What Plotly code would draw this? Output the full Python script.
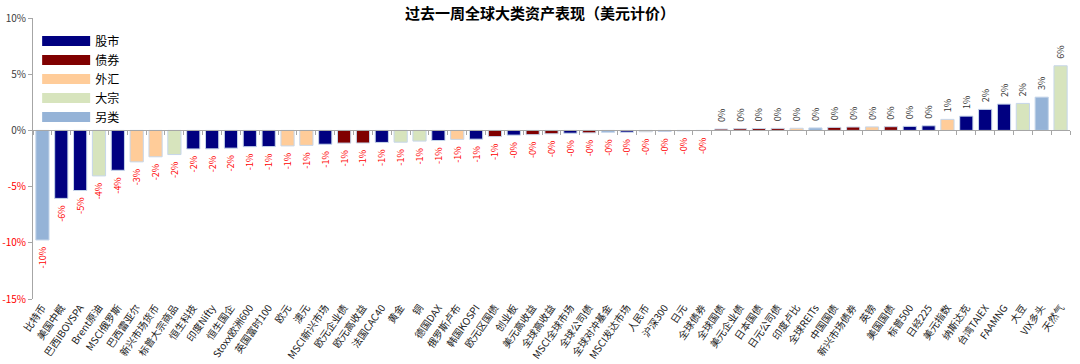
import plotly.graph_objects as go

categories = ["比特币", "美国中概", "巴西IBOVSPA", "Brent原油", "MSCI俄罗斯", "巴西雷亚尔", "新兴市场货币",
              "标普大宗商品", "恒生科技", "印度Nifty", "恒生国企", "Stoxx欧洲600", "英国富时100", "欧元", "澳元",
              "MSCI新兴市场", "欧元企业债", "欧元高收益", "法国CAC40", "黄金", "铜", "德国DAX", "俄罗斯卢布",
              "韩国KOSPI", "欧元区国债", "创业板", "美元高收益", "全球高收益", "MSCI全球市场", "全球公司债",
              "全球对冲基金", "MSCI发达市场", "人民币", "沪深300", "日元", "全球债券", "全球国债", "美元企业债",
              "日本国债", "日元公司债", "印度卢比", "全球REITs", "中国国债", "新兴市场债券", "英镑", "美国国债",
              "标普500", "日经225", "美元指数", "纳斯达克", "台湾TAIEX", "FAAMNG", "大豆", "VIX多头", "天然气"]

returns_pct = [-9.75, -6.05, -5.35, -4.05, -3.55, -2.80, -2.35, -2.15, -1.65, -1.64, -1.58, -1.45, -1.44,
               -1.38, -1.33, -1.23, -1.13, -1.12, -1.07, -1.05, -0.95, -0.90, -0.80, -0.78, -0.55, -0.42,
               -0.38, -0.30, -0.25, -0.22, -0.17, -0.16, -0.12, -0.08, -0.05, -0.02, 0.12, 0.15, 0.17, 0.18,
               0.19, 0.22, 0.27, 0.30, 0.31, 0.33, 0.36, 0.41, 0.98, 1.27, 1.87, 2.34, 2.40, 2.96, 5.75]

asset_class = ["另类", "股市", "股市", "大宗", "股市", "外汇", "外汇", "大宗", "股市", "股市", "股市", "股市", "股市",
               "外汇", "外汇", "股市", "债券", "债券", "股市", "大宗", "大宗", "股市", "外汇", "股市", "债券", "股市",
               "债券", "债券", "股市", "债券", "另类", "股市", "外汇", "股市", "外汇", "债券", "债券", "债券",
               "债券", "债券", "外汇", "另类", "债券", "债券", "外汇", "债券", "股市", "股市", "外汇", "股市",
               "股市", "股市", "大宗", "另类", "大宗"]

class_order = ["股市", "债券", "外汇", "大宗", "另类"]
class_colors = {"股市": "#000080", "债券": "#800000", "外汇": "#FFCC99", "大宗": "#D7E4BD", "另类": "#95B3D7"}

y_ticks = [-15, -10, -5, 0, 5, 10]

FONT = "Noto Sans CJK SC"
NB = "\u00a0"

def fmt(v):
    s = f"{v:.0f}%"
    # pad on the side facing the bar end
    return s + NB * 2 if v < 0 else NB * 2 + s

fig = go.Figure()

for cls in class_order:
    xs = [c for c, a in zip(categories, asset_class) if a == cls]
    ys = [v for v, a in zip(returns_pct, asset_class) if a == cls]
    fig.add_trace(go.Bar(
        x=xs, y=ys,
        marker=dict(color=class_colors[cls], line=dict(color="#C6D6EA", width=1)),
        text=[fmt(v) for v in ys],
        textposition="outside",
        textangle=-90,
        textfont=dict(size=9, family=FONT, color=["#FF0000" if v < 0 else "#333333" for v in ys]),
        cliponaxis=False,
        showlegend=False,
        hoverinfo="x+y",
    ))
    # legend swatch
    fig.add_trace(go.Scatter(
        x=[None], y=[None], mode="lines", name=cls,
        line=dict(color=class_colors[cls], width=13),
        showlegend=True,
    ))

# invisible trace to carry the zero-line category axis
fig.add_trace(go.Scatter(x=categories, y=[None] * len(categories), xaxis="x2", yaxis="y",
                         showlegend=False, hoverinfo="skip", mode="markers"))

tick_text = [f'<span style="color:#FF0000">{t}%</span>' if t < 0 else f"{t}%" for t in y_ticks]

fig.update_layout(
    width=1080, height=364,
    margin=dict(l=33, r=10, t=18, b=65, autoexpand=False),
    paper_bgcolor="white", plot_bgcolor="white",
    barmode="relative",
    bargap=0.3,
    uniformtext=dict(minsize=9, mode="show"),
    font=dict(family=FONT, color="#333333"),
    title=dict(text="<b>过去一周全球大类资产表现（美元计价）</b>", x=0.5, xanchor="center",
               y=1 - 14 / 364, yanchor="middle", font=dict(size=15, color="#000000", family=FONT)),
    legend=dict(x=0.004, y=0.97, xanchor="left", yanchor="top", bgcolor="rgba(0,0,0,0)",
                font=dict(size=12, color="#000000", family=FONT), tracegroupgap=0, itemwidth=48),
    xaxis=dict(
        type="category", categoryorder="array", categoryarray=categories,
        showline=False, ticks="", showgrid=False, zeroline=False,
        tickangle=-55, tickfont=dict(size=10, color="#222222", family=FONT),
        range=[-0.5, len(categories) - 0.5],
    ),
    xaxis2=dict(
        type="category", categoryorder="array", categoryarray=categories,
        matches="x", overlaying="x", anchor="free", position=15 / 25, side="bottom",
        showline=True, linecolor="#A6A6A6", linewidth=1,
        ticks="outside", ticklen=4, tickcolor="#A6A6A6", tickson="boundaries",
        showticklabels=False, showgrid=False, zeroline=False,
    ),
    yaxis=dict(
        range=[-15, 10], tickvals=y_ticks, ticktext=tick_text,
        showline=True, linecolor="#A6A6A6", linewidth=1,
        ticks="outside", ticklen=4, tickcolor="#A6A6A6",
        showgrid=False, zeroline=False,
        tickfont=dict(size=10, color="#404040", family=FONT),
    ),
)

fig.write_html("out.html", config={"displayModeBar": False},
               post_script="document.body.style.margin='0';")
